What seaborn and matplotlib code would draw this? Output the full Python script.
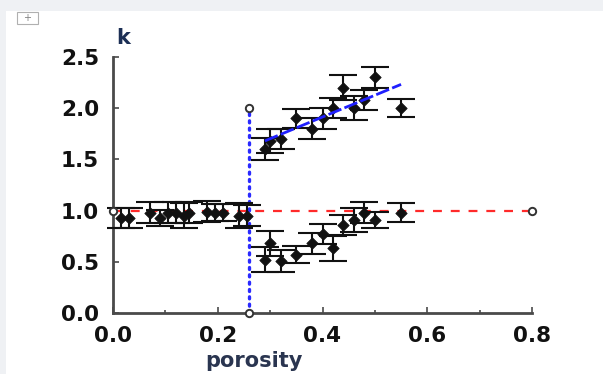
import matplotlib
matplotlib.use("Agg")
import matplotlib.pyplot as plt
import matplotlib.patches as mpatches
import numpy as np
import pandas as pd
import seaborn as sns

# measurements below the threshold (k ~ 1)
low_x = [0.015, 0.03, 0.07, 0.09, 0.105, 0.12, 0.135, 0.145, 0.18, 0.195, 0.21, 0.24, 0.255]
low_k = [0.93, 0.93, 0.98, 0.93, 0.98, 0.98, 0.95, 0.98, 0.99, 0.98, 0.98, 0.95, 0.95]
low_err = [0.1, 0.1, 0.1, 0.08, 0.1, 0.1, 0.12, 0.1, 0.1, 0.08, 0.08, 0.12, 0.1]

# measurements above the threshold, upper branch
up_x = [0.29, 0.30, 0.32, 0.35, 0.38, 0.40, 0.42, 0.44, 0.46, 0.48, 0.50, 0.55]
up_k = [1.60, 1.68, 1.70, 1.90, 1.80, 1.90, 2.00, 2.20, 2.00, 2.08, 2.30, 2.00]
up_err = [0.11, 0.12, 0.1, 0.09, 0.1, 0.1, 0.1, 0.12, 0.12, 0.1, 0.1, 0.09]

# measurements above the threshold, lower branch
dn_x = [0.29, 0.30, 0.32, 0.35, 0.38, 0.40, 0.42, 0.44, 0.46, 0.48, 0.50, 0.55]
dn_k = [0.52, 0.68, 0.51, 0.57, 0.68, 0.77, 0.63, 0.86, 0.91, 0.98, 0.91, 0.98]
dn_err = [0.12, 0.12, 0.11, 0.08, 0.1, 0.1, 0.12, 0.1, 0.12, 0.1, 0.08, 0.09]

# guide lines
threshold_x = [0.26, 0.26]
threshold_k = [0.0, 2.0]
unity_x = [0.0, 0.8]
unity_k = [1.0, 1.0]

x_ticks = [0.0, 0.2, 0.4, 0.6, 0.8]
y_ticks = [0.0, 0.5, 1.0, 1.5, 2.0, 2.5]

sns.set_theme(style="ticks")
plt.rcParams["font.family"] = ["DejaVu Sans"]

fig = plt.figure(figsize=(6.03, 3.74), dpi=100, facecolor="#eff1f4")
# white page area with a gray frame on top / left
page = mpatches.Rectangle((6 / 603, 0), 1, 1 - 11 / 374, transform=fig.transFigure,
                          facecolor="white", edgecolor="none", zorder=-5)
fig.add_artist(page)
# little move-handle icon
icon = mpatches.Rectangle((17 / 603, 1 - 24 / 374), 21 / 603, 12 / 374,
                          transform=fig.transFigure, facecolor="white",
                          edgecolor="#b0b0b0", linewidth=0.8, zorder=-4)
fig.add_artist(icon)
fig.text(27.5 / 603, 1 - 18 / 374, "+", fontsize=7, color="#808080", ha="center", va="center")

ax = fig.add_axes([113 / 603, 1 - 313 / 374, 419 / 603, 256 / 374])
ax.set_facecolor("none")

# guide lines
unity = pd.DataFrame({"x": unity_x, "k": unity_k})
sns.lineplot(data=unity, x="x", y="k", ax=ax, color="#ff2a2a", linewidth=1.6,
             linestyle=(0, (4, 4)), zorder=2)
thr = pd.DataFrame({"x": threshold_x, "k": threshold_k})
ax.plot(thr["x"], thr["k"], color="#2a2aff", linewidth=2.4, linestyle=(0, (0.6, 1.6)),
        dash_capstyle="round", zorder=2, clip_on=False)

# open circles at the guide line ends
ends_x = [threshold_x[0], threshold_x[1], unity_x[0], unity_x[1]]
ends_k = [threshold_k[0], threshold_k[1], unity_k[0], unity_k[1]]
ax.scatter(ends_x, ends_k, s=28, facecolor="white", edgecolor="#333333", linewidth=1.4,
           zorder=5, clip_on=False)

# data with error bars
for xs, ks, es in [(low_x, low_k, low_err), (up_x, up_k, up_err), (dn_x, dn_k, dn_err)]:
    ax.errorbar(xs, ks, yerr=es, fmt="none", ecolor="#111111", elinewidth=1.5,
                capsize=10, capthick=1.5, zorder=3, clip_on=False)
    df = pd.DataFrame({"x": xs, "k": ks})
    sns.scatterplot(data=df, x="x", y="k", ax=ax, marker="D", s=34, color="#111111",
                    edgecolor="#111111", linewidth=0.5, zorder=4, clip_on=False)

# linear fit for the upper branch
upper = pd.DataFrame({"x": up_x, "k": up_k})
sns.regplot(data=upper, x="x", y="k", ax=ax, scatter=False, ci=None, truncate=True,
            line_kws={"color": "#1f1fff", "linewidth": 2.0, "linestyle": (0, (5, 1.2)),
                      "zorder": 6})

ax.set_xlim(0, 0.8)
ax.set_ylim(0, 2.5)
ax.set_xticks(x_ticks)
ax.set_xticks([0.1, 0.3, 0.5, 0.7], minor=True)
ax.set_yticks(y_ticks)
ax.set_xticklabels([f"{v:.1f}" for v in x_ticks])
ax.set_yticklabels([f"{v:.1f}" for v in y_ticks])
ax.set_xlabel("")
ax.set_ylabel("")

for side in ["top", "right"]:
    ax.spines[side].set_visible(False)
for side in ["left", "bottom"]:
    ax.spines[side].set_color("#4a4a4a")
    ax.spines[side].set_linewidth(2.0)

ax.tick_params(axis="both", which="major", direction="in", length=4, width=1.2,
               color="#4a4a4a", labelsize=15.5, labelcolor="#111111")
ax.tick_params(axis="x", which="major", pad=9)
ax.tick_params(axis="y", which="major", pad=10)
ax.tick_params(axis="x", which="minor", direction="in", length=2, width=1.2, color="#4a4a4a")
for lab in ax.get_xticklabels() + ax.get_yticklabels():
    lab.set_fontweight("heavy")

fig.text(123 / 603, 1 - 38 / 374, "k", fontsize=15, fontweight="bold", color="#1c2f55",
         ha="center", va="center")
fig.text(254 / 603, 1 - 361 / 374, "porosity", fontsize=15, fontweight="bold",
         color="#2a3550", ha="center", va="center")

fig.savefig("out.png", dpi=100, facecolor=fig.get_facecolor())
